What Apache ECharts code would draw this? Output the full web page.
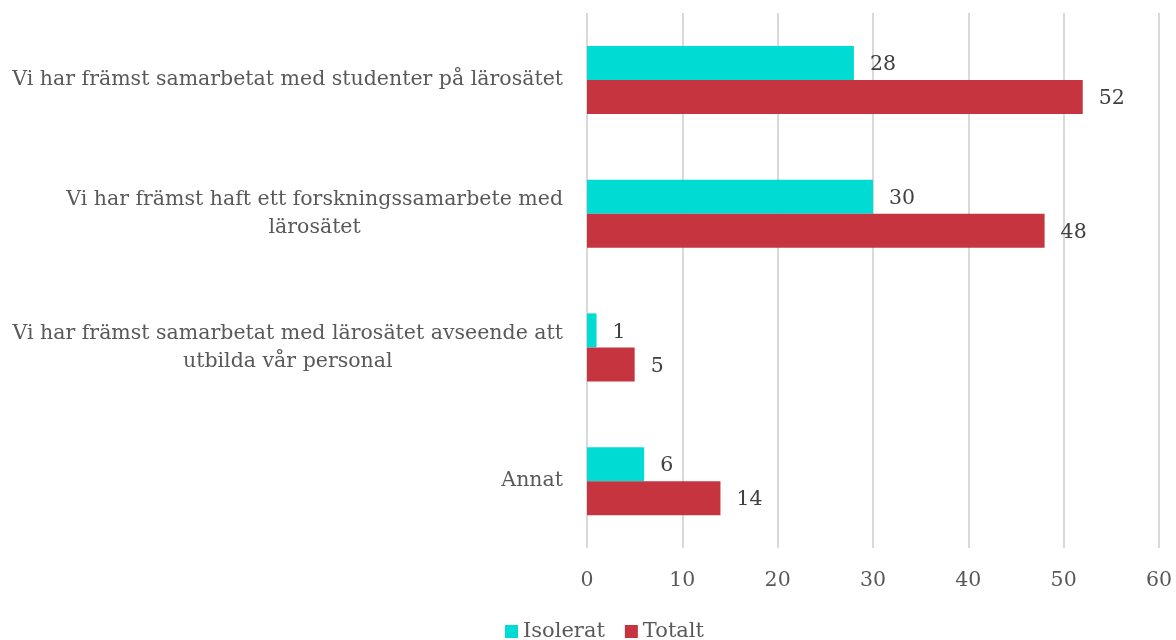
<!DOCTYPE html>
<html lang="sv">
  <head>
    <meta charset="UTF-8" />
    <title>Samarbete med lärosätet</title>
    <script src="https://cdn.jsdelivr.net/npm/echarts@6/dist/echarts.min.js"></script>
    <style>
      html, body { margin: 0; padding: 0; background: #fff; }
      #main { width: 1176px; height: 640px; }
    </style>
  </head>
  <body>
    <div id="main"></div>
    <script>
      // kategorier (uppifrån och ned)
      const categories = [
        "Vi har främst samarbetat med studenter på lärosätet",
        "Vi har främst haft ett forskningssamarbete med\nlärosätet",
        "Vi har främst samarbetat med lärosätet avseende att\nutbilda vår personal",
        "Annat",
      ];
      const seriesNames = ["Isolerat", "Totalt"];
      const isolerat = [28, 30, 1, 6];
      const totalt = [52, 48, 5, 14];
      const xTicks = { min: 0, max: 60, interval: 10 };

      const font = "'DejaVu Serif', Georgia, serif";

      const chart = echarts.init(document.getElementById("main"));

      const valueLabel = {
        show: true,
        position: "right",
        distance: 16,
        offset: [0, 2],
        color: "#404040",
        fontFamily: font,
        fontSize: 20.5,
      };

      const option = {
        animation: false,
        textStyle: { fontFamily: font },
        legend: {
          data: seriesNames,
          left: 500,
          top: 616,
          itemWidth: 13,
          itemHeight: 13,
          itemGap: 20,
          icon: "rect",
          textStyle: { color: "#595959", fontSize: 21, fontFamily: font },
        },
        grid: { left: 587, right: 17, top: 13, bottom: 92, containLabel: false },
        xAxis: {
          type: "value",
          min: xTicks.min,
          max: xTicks.max,
          interval: xTicks.interval,
          axisLine: { show: false },
          axisTick: { show: false },
          splitLine: { lineStyle: { color: "#d9d9d9", width: 2 } },
          axisLabel: {
            color: "#595959",
            fontSize: 20.5,
            fontFamily: font,
            margin: 22,
          },
        },
        yAxis: {
          type: "category",
          data: categories,
          inverse: true,
          axisLine: { show: false },
          axisTick: { show: false },
          axisLabel: {
            margin: 24,
            align: "right",
            formatter: (v) =>
              v.split("\n").map((l) => "{c|" + l + "}").join("\n"),
            rich: {
              c: {
                align: "center",
                color: "#595959",
                fontSize: 20.5,
                fontFamily: font,
                lineHeight: 28,
              },
            },
          },
        },
        series: [
          {
            name: seriesNames[0],
            type: "bar",
            data: isolerat,
            barWidth: 34,
            barGap: "0%",
            itemStyle: { color: "#00dcd4" },
            label: valueLabel,
          },
          {
            name: seriesNames[1],
            type: "bar",
            data: totalt,
            barWidth: 34,
            barGap: "0%",
            itemStyle: { color: "#c5343f" },
            label: valueLabel,
          },
        ],
      };

      chart.setOption(option);
    </script>
  </body>
</html>
